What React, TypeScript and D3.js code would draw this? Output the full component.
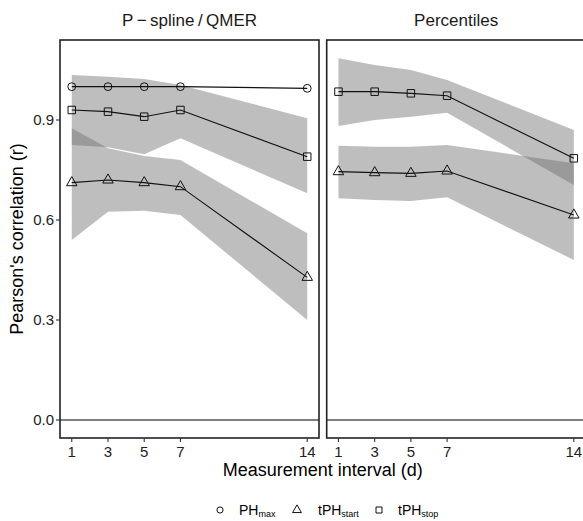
import React from 'react';
import * as d3 from 'd3';

// measurement intervals (days)
const intervals = [1, 3, 5, 7, 14];
const xTicks = [1, 3, 5, 7, 14];
const yTicks = [0.0, 0.3, 0.6, 0.9];

// P-spline / QMER
const splinePHmax = [1.0, 1.0, 1.0, 1.0, 0.995];
const splineStop = [0.93, 0.925, 0.91, 0.93, 0.79];
const splineStopLo = [0.825, 0.818, 0.797, 0.845, 0.68];
const splineStopHi = [1.035, 1.03, 1.023, 1.005, 0.905];
const splineStart = [0.712, 0.72, 0.712, 0.70, 0.428];
const splineStartLo = [0.54, 0.625, 0.628, 0.615, 0.30];
const splineStartHi = [0.875, 0.815, 0.792, 0.78, 0.56];

// Percentiles
const pctStop = [0.985, 0.985, 0.98, 0.973, 0.785];
const pctStopLo = [0.882, 0.90, 0.91, 0.922, 0.705];
const pctStopHi = [1.085, 1.065, 1.05, 1.02, 0.87];
const pctStart = [0.745, 0.742, 0.74, 0.747, 0.615];
const pctStartLo = [0.665, 0.66, 0.657, 0.668, 0.48];
const pctStartHi = [0.823, 0.82, 0.82, 0.825, 0.77];

const W = 583, H = 521;
const top = 40, bottom = 438;
const font = '"Liberation Sans", Arial, sans-serif';

type Series = { shape: d3.SymbolType; size: number; vals: number[]; lo?: number[]; hi?: number[] };

const panels = [
  {
    title: 'P\u2009\u2212\u2009spline\u2009/\u2009QMER',
    x0: 60, x1: 319,
    series: [
      { shape: d3.symbolCircle, size: 48, vals: splinePHmax },
      { shape: d3.symbolSquare, size: 56, vals: splineStop, lo: splineStopLo, hi: splineStopHi },
      { shape: d3.symbolTriangle, size: 48, vals: splineStart, lo: splineStartLo, hi: splineStartHi },
    ] as Series[],
  },
  {
    title: 'Percentiles',
    x0: 326.7, x1: 585.6,
    series: [
      { shape: d3.symbolSquare, size: 56, vals: pctStop, lo: pctStopLo, hi: pctStopHi },
      { shape: d3.symbolTriangle, size: 48, vals: pctStart, lo: pctStartLo, hi: pctStartHi },
    ] as Series[],
  },
];

const y = d3.scaleLinear().domain([-0.054, 1.14]).range([bottom, top]);

function Panel({ p, first }: { p: typeof panels[number]; first: boolean }) {
  const x = d3.scaleLinear().domain([0.35, 14.65]).range([p.x0, p.x1]);
  const line = d3.line<number>().x((_, i) => x(intervals[i])).y(d => y(d));
  return (
    <g>
      <text x={(p.x0 + p.x1) / 2} y={26} textAnchor="middle" fontSize={17} fill="#1a1a1a">{p.title}</text>
      <rect x={p.x0} y={top} width={p.x1 - p.x0} height={bottom - top} fill="white" />
      {p.series.filter(s => s.lo && s.hi).map((s, k) => {
        const area = d3.area<number>()
          .x((_, i) => x(intervals[i]))
          .y0((_, i) => y(s.lo![i]))
          .y1((_, i) => y(s.hi![i]));
        return <path key={'r' + k} d={area(s.vals) || ''} fill="#6e6e6e" fillOpacity={0.45} />;
      })}
      <line x1={p.x0} x2={p.x1} y1={y(0)} y2={y(0)} stroke="#000" strokeWidth={1.1} />
      {p.series.map((s, k) => (
        <g key={'s' + k}>
          <path d={line(s.vals) || ''} fill="none" stroke="#111" strokeWidth={1.1} />
          {s.vals.map((v, i) => (
            <path key={i} transform={`translate(${x(intervals[i])},${y(v)})`}
              d={d3.symbol(s.shape, s.size)() || ''} fill="none" stroke="#111" strokeWidth={1} />
          ))}
        </g>
      ))}
      <rect x={p.x0} y={top} width={p.x1 - p.x0} height={bottom - top} fill="none" stroke="#222" strokeWidth={1.6} />
      {xTicks.map(t => (
        <g key={t}>
          <line x1={x(t)} x2={x(t)} y1={bottom} y2={bottom + 4} stroke="#333" strokeWidth={1.1} />
          <text x={x(t)} y={457} textAnchor="middle" fontSize={15} fill="#222">{t}</text>
        </g>
      ))}
      {first && yTicks.map(t => (
        <g key={t}>
          <line x1={p.x0 - 4} x2={p.x0} y1={y(t)} y2={y(t)} stroke="#333" strokeWidth={1.1} />
          <text x={p.x0 - 6} y={y(t) + 5} textAnchor="end" fontSize={15} fill="#222">{d3.format('.1f')(t)}</text>
        </g>
      ))}
    </g>
  );
}

export default function App() {
  const legendY = 510;
  return (
    <svg width={W} height={H} style={{ position: 'absolute', left: 0, top: 0, background: 'white' }} fontFamily={font}>
      {panels.map((p, i) => <Panel key={i} p={p} first={i === 0} />)}
      <text x={(60 + 585.6) / 2} y={476} textAnchor="middle" fontSize={18} fill="#000">Measurement interval (d)</text>
      <text transform={`translate(23,${(top + bottom) / 2}) rotate(-90)`} textAnchor="middle" fontSize={18} fill="#000">Pearson's correlation (r)</text>
      <g fontSize={14} fill="#000">
        <path transform={`translate(220,${legendY})`} d={d3.symbol(d3.symbolCircle, 30)() || ''} fill="none" stroke="#111" />
        <text x={239} y={legendY + 5}>PH<tspan fontSize={9} dy={2}>max</tspan></text>
        <path transform={`translate(297,${legendY})`} d={d3.symbol(d3.symbolTriangle, 34)() || ''} fill="none" stroke="#111" />
        <text x={318} y={legendY + 5}>tPH<tspan fontSize={9} dy={2}>start</tspan></text>
        <path transform={`translate(379,${legendY})`} d={d3.symbol(d3.symbolSquare, 36)() || ''} fill="none" stroke="#111" />
        <text x={398} y={legendY + 5}>tPH<tspan fontSize={9} dy={2}>stop</tspan></text>
      </g>
    </svg>
  );
}
